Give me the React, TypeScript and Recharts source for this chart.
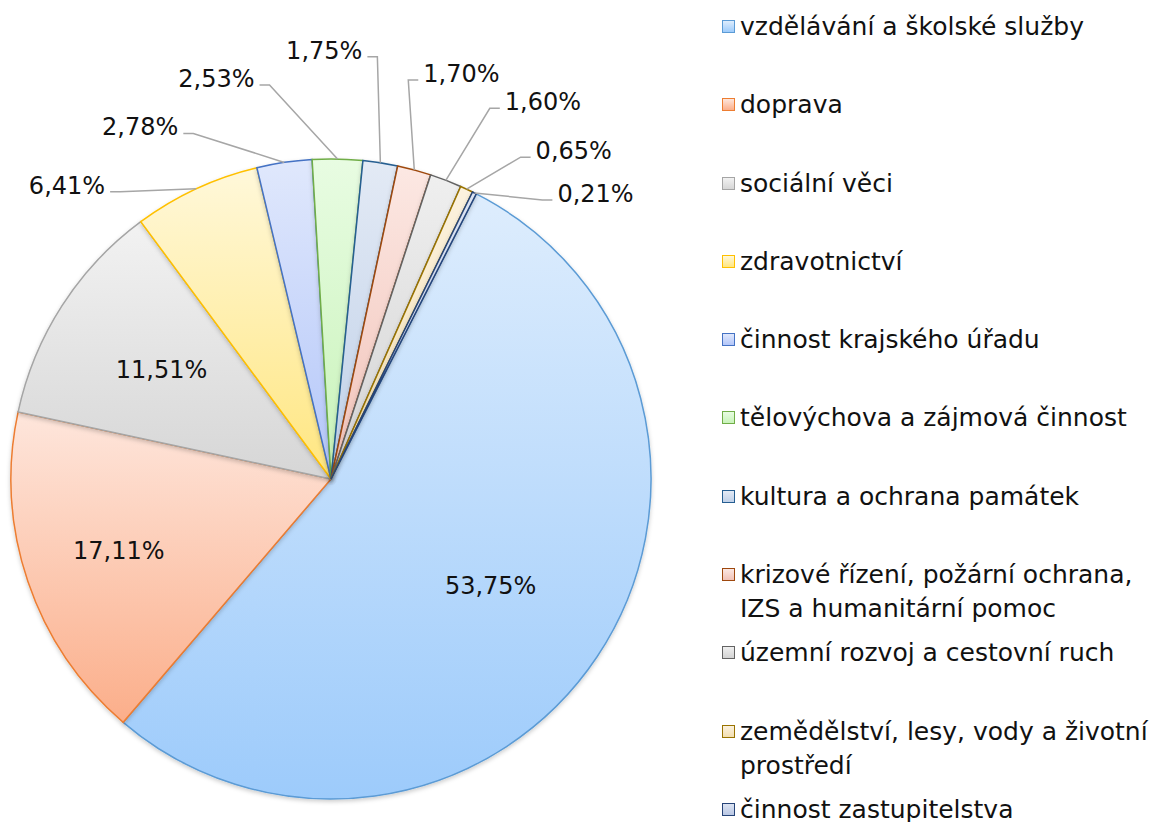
import React from 'react';
import { PieChart, Pie, Cell, Legend } from 'recharts';

const categories = [
    'vzdělávání a školské služby',
    'doprava',
    'sociální věci',
    'zdravotnictví',
    'činnost krajského úřadu',
    'tělovýchova a zájmová činnost',
    'kultura a ochrana památek',
    'krizové řízení, požární ochrana, IZS a humanitární pomoc',
    'územní rozvoj a cestovní ruch',
    'zemědělství, lesy, vody a životní prostředí',
    'činnost zastupitelstva',
];

const shares = [53.75, 17.11, 11.51, 6.41, 2.78, 2.53, 1.75, 1.70, 1.60, 0.65, 0.21];

// slice styling (outline + gradient top/bottom)
const strokeColors = ['#5b9bd5', '#ed7d31', '#a5a5a5', '#ffc000', '#4472c4', '#70ad47', '#255e91', '#9e480e', '#636363', '#997300', '#264478'];
const gradTop = ['#deedfd', '#fee6dc', '#f2f2f2', '#fff8da', '#e0e8fc', '#e8fce2', '#e3eaf5', '#fce8e3', '#efefef', '#fcf2df', '#dde4f2'];
const gradBottom = ['#9dcbfb', '#fbae8a', '#d6d6d6', '#ffe680', '#b3c6f9', '#c8f3b9', '#bfd0e8', '#f1c2b8', '#d3d3d3', '#f2deb0', '#b9c7e4'];

// label layout: inside radius factors for the big slices, offsets from the arc for the rest
const insideRatio = [0.6, 0.7, 0.63];
const outsideLabels: Record<number, { dx: number; dy: number; anchor: 'start' | 'end' }> = {
    3: { dx: -91, dy: -3, anchor: 'end' },
    4: { dx: -106, dy: -35, anchor: 'end' },
    5: { dx: -83, dy: -80, anchor: 'end' },
    6: { dx: -18, dy: -112, anchor: 'end' },
    7: { dx: 9, dy: -96, anchor: 'start' },
    8: { dx: 59, dy: -78, anchor: 'start' },
    9: { dx: 69, dy: -38, anchor: 'start' },
    10: { dx: 83, dy: 1, anchor: 'start' },
};

const chartData = categories.map((name, i) => ({ name, value: shares[i] }));

const FONT = '"DejaVu Sans", sans-serif';
const RADIAN = Math.PI / 180;
const fmt = (v: number) => v.toFixed(2).replace('.', ',') + '%';

const renderLabel = (props: any) => {
    const { cx, cy, midAngle, outerRadius, index, value } = props;
    const cos = Math.cos(-midAngle * RADIAN);
    const sin = Math.sin(-midAngle * RADIAN);
    const text = fmt(value);
    const textStyle = { fontFamily: FONT, fontSize: 24, fill: '#111' };

    if (index < 3) {
        const r = outerRadius * insideRatio[index];
        return (
            <text x={cx + r * cos} y={cy + r * sin} textAnchor="middle" dominantBaseline="central" style={textStyle}>
                {text}
            </text>
        );
    }

    const lay = outsideLabels[index];
    const ax = cx + outerRadius * cos;
    const ay = cy + outerRadius * sin;
    const tx = ax + lay.dx;
    const ty = ay + lay.dy;
    const dir = lay.anchor === 'end' ? 1 : -1;
    const edgeX = tx + dir * 5;
    const elbowX = tx + dir * 15;
    const lineY = ty + 6;

    return (
        <g>
            <polyline
                points={`${edgeX},${lineY} ${elbowX},${lineY} ${ax},${ay}`}
                fill="none"
                stroke="#a6a6a6"
                strokeWidth={1.5}
            />
            <text x={tx} y={ty} textAnchor={lay.anchor} dominantBaseline="central" style={textStyle}>
                {text}
            </text>
        </g>
    );
};

const renderLegend = () => (
    <div style={{ fontFamily: FONT, fontSize: 25, color: '#111' }}>
        {categories.map((name, i) => (
            <div key={name} style={{ height: 78.3, display: 'flex', alignItems: 'flex-start' }}>
                <div
                    style={{
                        width: 11,
                        height: 11,
                        marginTop: 10,
                        marginRight: 5,
                        flex: 'none',
                        border: `1.5px solid ${strokeColors[i]}`,
                        background: `linear-gradient(${gradTop[i]}, ${gradBottom[i]})`,
                    }}
                />
                <div style={{ lineHeight: '34px', width: 420 }}>{name}</div>
            </div>
        ))}
    </div>
);

export default function App() {
    return (
        <div style={{ position: 'absolute', left: 0, top: 0, width: 1149, height: 822, background: '#fff' }}>
            <PieChart width={1149} height={822} margin={{ top: 0, right: 0, bottom: 0, left: 0 }}>
                <defs>
                    {categories.map((_, i) => (
                        <linearGradient key={i} id={`slice${i}`} x1="0" y1="0" x2="0" y2="1">
                            <stop offset="0%" stopColor={gradTop[i]} />
                            <stop offset="100%" stopColor={gradBottom[i]} />
                        </linearGradient>
                    ))}
                    <filter id="pieShadow" x="-10%" y="-10%" width="120%" height="120%">
                        <feDropShadow dx="0" dy="2" stdDeviation="2" floodColor="#000" floodOpacity="0.2" />
                    </filter>
                </defs>
                <Pie
                    data={chartData}
                    dataKey="value"
                    nameKey="name"
                    cx={331}
                    cy={479}
                    outerRadius={320}
                    startAngle={63}
                    endAngle={-297}
                    label={renderLabel}
                    labelLine={false}
                    isAnimationActive={false}
                    style={{ filter: 'url(#pieShadow)' }}
                >
                    {chartData.map((_, i) => (
                        <Cell key={i} fill={`url(#slice${i})`} stroke={strokeColors[i]} strokeWidth={1.5} />
                    ))}
                </Pie>
                <Legend
                    layout="vertical"
                    content={renderLegend}
                    wrapperStyle={{ position: 'absolute', left: 722, top: 10, width: 427 }}
                />
            </PieChart>
        </div>
    );
}
